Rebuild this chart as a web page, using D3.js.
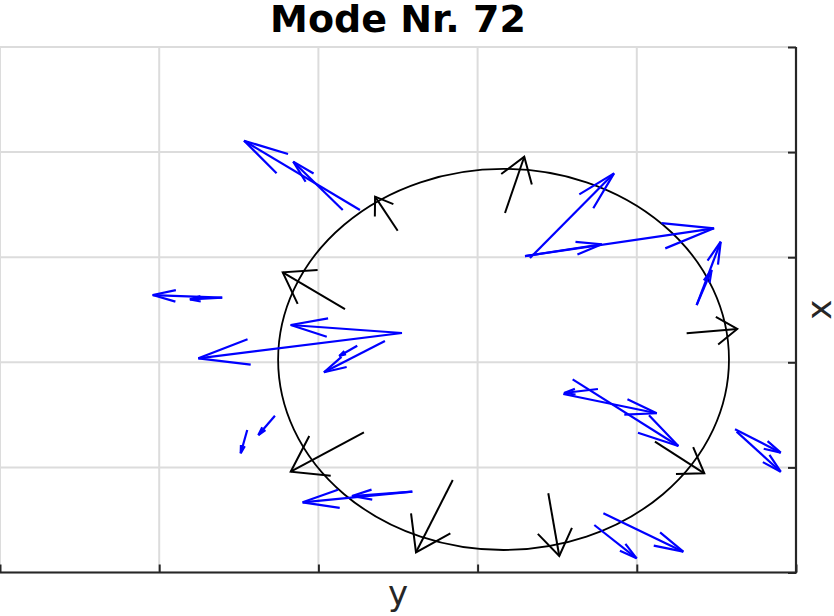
<!DOCTYPE html>
<html><head><meta charset="utf-8">
<script src="https://cdn.jsdelivr.net/npm/d3@7/dist/d3.min.js"></script>
<style>body{margin:0;background:#fff;} svg{display:block}</style>
</head><body>
<svg id="c" width="834" height="616"></svg>
<script>
// ---- data ----
const titleText = "Mode Nr. 72";
const horizLabel = "y";
const vertLabel = "x";
const tickValues = [0, 1, 2, 3, 4, 5];
const ringCenter = [3.163, 2.027];
const ringRadii = [1.416, 1.813];

// black quiver (structure points): tail x, tail y, u, v
const blackX = [3.172, 2.498, 2.167, 2.286, 2.844, 3.444, 4.114, 4.313];
const blackY = [3.421, 3.252, 2.507, 1.334, 0.880, 0.754, 1.245, 2.276];
const blackU = [0.121, -0.142, -0.391, -0.460, -0.231, 0.069, 0.310, 0.318];
const blackV = [0.535, 0.324, 0.349, -0.375, -0.688, -0.597, -0.301, 0.041];

// blue quiver (sensor points): tail x, tail y, u, v
const blueX = [2.261, 2.153, 1.396, 1.396, 2.525, 2.525, 2.418, 2.244, 1.727, 1.553, 2.590, 2.590,
               3.329, 3.298, 3.298, 4.376, 4.376, 3.538, 3.597, 3.756, 4.617, 4.627, 3.733, 3.790];
const blueY = [3.449, 3.449, 2.615, 2.615, 2.279, 2.279, 2.203, 2.158, 1.492, 1.356, 0.769, 0.769,
               2.992, 3.011, 3.011, 2.545, 2.545, 1.698, 1.838, 1.746, 1.363, 1.340, 0.452, 0.563];
const blueU = [-0.728, -0.311, -0.437, -0.203, -1.279, -0.699, -0.383, -0.113, -0.104, -0.041, -0.689, -0.379,
               0.528, 1.187, 0.482, 0.151, 0.094, 0.587, 0.664, -0.213, 0.287, 0.277, 0.266, 0.502];
const blueV = [0.659, 0.460, 0.025, -0.016, -0.241, 0.076, -0.298, -0.098, -0.184, -0.222, -0.101, -0.041,
               0.806, 0.264, 0.112, 0.602, 0.333, -0.183, -0.634, -0.038, -0.223, -0.381, -0.317, -0.365];

// ---- drawing ----
const svg = d3.select("#c");
const L = 0, R = 796, T = 47, B = 572.5;
const sx = d3.scaleLinear().domain([0, 5]).range([L, R]);
const sy = d3.scaleLinear().domain([0, 5]).range([B, T]);
const axisColor = "#262626";

// grid
const grid = svg.append("g");
grid.selectAll(".gx").data(tickValues).enter().append("line")
  .attr("x1", d => sx(d)).attr("x2", d => sx(d)).attr("y1", T).attr("y2", B)
  .attr("stroke", "#dcdcdc").attr("stroke-width", 2);
grid.selectAll(".gy").data(tickValues).enter().append("line")
  .attr("x1", L).attr("x2", R).attr("y1", d => sy(d)).attr("y2", d => sy(d))
  .attr("stroke", "#dcdcdc").attr("stroke-width", 2);

// axes (ticks inside, no labels)
const xAxis = d3.axisBottom(sx).tickValues(tickValues).tickSize(-8).tickFormat("");
const yAxis = d3.axisRight(sy).tickValues(tickValues).tickSize(-8).tickFormat("");
const gx = svg.append("g").attr("transform", `translate(0,${B})`).call(xAxis);
const gy = svg.append("g").attr("transform", `translate(${R},0)`).call(yAxis);
[gx, gy].forEach(g => {
  g.select(".domain").attr("stroke", axisColor).attr("stroke-width", 2.2);
  g.selectAll(".tick line").attr("stroke", axisColor).attr("stroke-width", 2);
});
gx.select(".domain").attr("d", `M${L},0H${R + 1}`);
gy.select(".domain").attr("d", `M0,${T}V${B}`);

// ring
svg.append("ellipse")
  .attr("cx", sx(ringCenter[0])).attr("cy", sy(ringCenter[1]))
  .attr("rx", sx(ringRadii[0]) - sx(0)).attr("ry", sy(0) - sy(ringRadii[1]))
  .attr("fill", "none").attr("stroke", "#000").attr("stroke-width", 1.8);

function quiver(X, Y, U, V, color, alpha, beta, maxLen, width) {
  const g = svg.append("g").attr("stroke", color).attr("fill", "none")
    .attr("stroke-width", width).attr("stroke-linecap", "butt").attr("stroke-linejoin", "miter");
  X.forEach((x, i) => {
    const x0 = sx(x), y0 = sy(Y[i]);
    const x1 = sx(x + U[i]), y1 = sy(Y[i] + V[i]);
    let px = x1 - x0, py = y1 - y0;
    const len = Math.hypot(px, py);
    if (len > maxLen) { px *= maxLen / len; py *= maxLen / len; }
    const b1 = [x1 - alpha * (px + beta * -py), y1 - alpha * (py + beta * px)];
    const b2 = [x1 - alpha * (px - beta * -py), y1 - alpha * (py - beta * px)];
    g.append("path").attr("d", `M${x0},${y0}L${x1},${y1}`);
    g.append("path").attr("d", `M${b1[0]},${b1[1]}L${x1},${y1}L${b2[0]},${b2[1]}`);
  });
}
quiver(blackX, blackY, blackU, blackV, "#000000", 0.4, 0.68, 1000, 2);
quiver(blueX, blueY, blueU, blueV, "#0000ff", 0.33, 0.25, 155, 2.2);

// title and labels
svg.append("text").attr("x", (L + R) / 2).attr("y", 32).attr("text-anchor", "middle")
  .attr("font-family", "DejaVu Sans").attr("font-weight", "bold").attr("font-size", 38)
  .attr("fill", "#000").text(titleText);
svg.append("text").attr("x", (L + R) / 2).attr("y", 605).attr("text-anchor", "middle")
  .attr("font-family", "DejaVu Sans").attr("font-size", 34)
  .attr("fill", axisColor).text(horizLabel);
svg.append("text").attr("transform", `translate(831,${(T + B) / 2}) rotate(-90)`)
  .attr("text-anchor", "middle")
  .attr("font-family", "DejaVu Sans").attr("font-size", 34)
  .attr("fill", axisColor).text(vertLabel);
</script>
</body></html>
